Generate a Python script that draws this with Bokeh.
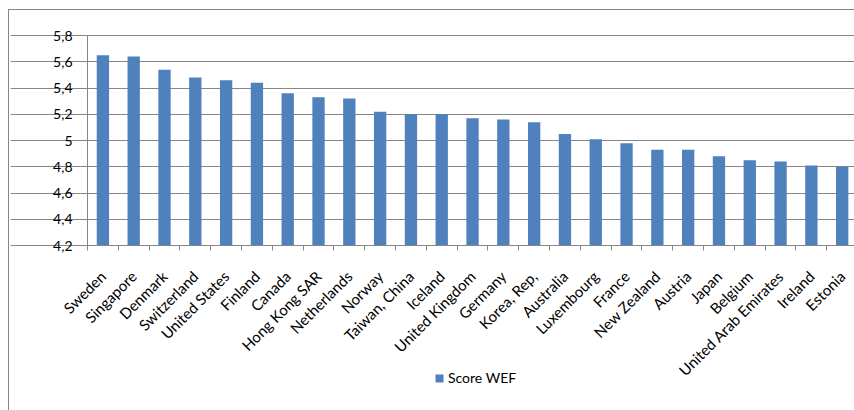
from math import pi

from bokeh.embed import file_html
from bokeh.models import ColumnDataSource, FixedTicker, Legend, LegendItem, Range1d
from bokeh.plotting import figure
from bokeh.resources import INLINE

# WEF scores by country
countries = [
    "Sweden", "Singapore", "Denmark", "Switzerland", "United States",
    "Finland", "Canada", "Hong Kong SAR", "Netherlands", "Norway",
    "Taiwan, China", "Iceland", "United Kingdom", "Germany", "Korea, Rep,",
    "Australia", "Luxembourg", "France", "New Zealand", "Austria",
    "Japan", "Belgium", "United Arab Emirates", "Ireland", "Estonia",
]
scores = [
    5.65, 5.64, 5.54, 5.48, 5.46,
    5.44, 5.36, 5.33, 5.32, 5.22,
    5.20, 5.20, 5.17, 5.16, 5.14,
    5.05, 5.01, 4.98, 4.93, 4.93,
    4.88, 4.85, 4.84, 4.81, 4.80,
]
y_ticks = [4.2, 4.4, 4.6, 4.8, 5.0, 5.2, 5.4, 5.6, 5.8]
y_tick_labels = ["4,2", "4,4", "4,6", "4,8", "5", "5,2", "5,4", "5,6", "5,8"]
series_name = "Score WEF"

FONT = "Lato"
GRID = "#868686"
BAR = "#4F81BD"

# canvas layout (px): frame edges, plot area left/top, x-axis baseline
W, H = 854, 410
EDGE, EDGE_TOP, LEFT, TOP, BASE = 10, 15, 87, 35, 245
y_min, y_max = y_ticks[0], y_ticks[-1]
x_min, x_max = -0.5, len(countries) - 0.6

# the frame is larger than the plot area so the rotated labels, the y labels
# and the legend can all be drawn inside it; both axes are pinned in place
y_per_px = (y_max - y_min) / (BASE - TOP)
y_floor = y_min - (H - BASE) * y_per_px
y_ceil = y_max + (TOP - EDGE_TOP) * y_per_px
x_floor = x_min - (LEFT - EDGE) * (x_max - x_min) / (W - LEFT)

idx = list(range(len(countries)))
src = ColumnDataSource(data=dict(x=idx, country=countries, score=scores))

p = figure(
    width=W, height=H,
    x_range=Range1d(x_floor, x_max),
    y_range=Range1d(y_floor, y_ceil),
    output_backend="svg", toolbar_location=None,
    min_border_left=EDGE, min_border_right=0,
    min_border_top=EDGE_TOP, min_border_bottom=0,
)
p.outline_line_color = None
p.background_fill_color = "white"
p.border_fill_color = None

# chart area border (left and top edges), drawn behind the transparent canvas border
p.styles = {
    "background-color": "white",
    "background-image": f"linear-gradient({GRID}, {GRID}), linear-gradient({GRID}, {GRID})",
    "background-size": "1px 100%, 100% 1px",
    "background-position": "8px 9px, 8px 9px",
    "background-repeat": "no-repeat",
}

r = p.vbar(x="x", top="score", bottom=y_min, width=0.4,
           fill_color=BAR, line_color=None, source=src)

# y axis: comma decimals, gridlines at every tick
p.yaxis.fixed_location = x_min
p.yaxis.ticker = FixedTicker(ticks=y_ticks)
p.yaxis.bounds = (y_min, y_max)
p.yaxis.major_label_overrides = dict(zip(y_ticks, y_tick_labels))
p.yaxis.axis_line_color = GRID
p.yaxis.major_tick_line_color = GRID
p.yaxis.major_tick_out = 6
p.yaxis.major_tick_in = 0
p.yaxis.minor_tick_line_color = None
p.yaxis.major_label_standoff = 9
p.yaxis.major_label_text_font = FONT
p.yaxis.major_label_text_font_size = "14px"
p.yaxis.major_label_text_color = "black"
p.ygrid.grid_line_color = GRID
p.ygrid.bounds = (x_min, x_max)
p.xgrid.visible = False

# x axis pinned at the 4,2 baseline: labels at category centres,
# tick marks between categories
p.xaxis.fixed_location = y_min
p.xaxis.bounds = (x_min, x_max)
p.xaxis.ticker = FixedTicker(ticks=idx, minor_ticks=[i - 0.5 for i in range(len(idx) + 1)])
p.xaxis.major_label_overrides = {i: c for i, c in zip(idx, countries)}
p.xaxis.major_label_orientation = pi / 4
p.xaxis.major_label_standoff = 22
p.xaxis.major_label_text_font = FONT
p.xaxis.major_label_text_font_size = "15px"
p.xaxis.major_label_text_color = "black"
p.xaxis.axis_line_color = GRID
p.xaxis.major_tick_line_color = None
p.xaxis.minor_tick_line_color = GRID
p.xaxis.minor_tick_out = 5
p.xaxis.minor_tick_in = 0

legend = Legend(
    items=[LegendItem(label=series_name, renderers=[r])],
    location=(434 - EDGE, 24),
    orientation="horizontal",
    glyph_width=10, glyph_height=10,
    label_standoff=4, padding=0, margin=0, spacing=0,
    border_line_color=None, background_fill_alpha=0,
    label_text_font=FONT, label_text_font_size="14px", label_text_color="black",
)
p.add_layout(legend)

open("out.html", "w").write(file_html(p, INLINE))
